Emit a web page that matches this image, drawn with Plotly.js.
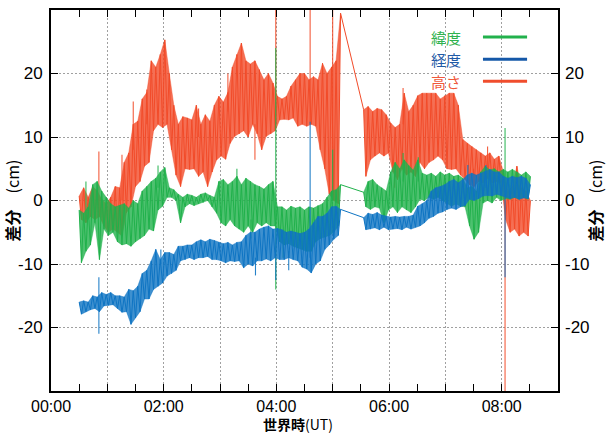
<!DOCTYPE html>
<html>
<head>
<meta charset="utf-8">
<script src="https://cdn.plot.ly/plotly-3.0.1.min.js"></script>
<style>
html,body{margin:0;padding:0;background:#fff;}
#chart{width:607px;height:436px;}
</style>
</head>
<body>
<div id="chart"></div>
<script>
// Sampling grid (hours UT): two recorded segments, sample step in hours.
// Samples alternate between the upper and lower edge of the noise band.
const STEP = 0.04;
const SEG1_START = 0.50;   // 117 samples, up to 05:08
const SEG2_START = 5.55;   // 75 samples, up to 08:31

// 緯度 (latitude) difference, cm
const latSeg1 = [
  -1.5, -9.8, -2, -8, -1, -7, 2.5, -3.5, 3, -9.3,
  1.5, -4.5, 0.5, -5.5, -0.5, -5, -1, -6.5, -0.8, -7,
  -0.5, -6.8, -1.2, -7.2, 0, -6.5, -0.5, -6, 1.5, -5.5,
  2.2, -4.5, 3, -4.8, 3.5, -1.5, 4.5, -0.9, 5.2, 0.5,
  2, 0.5, 1.7, 0, 1, -3.5, 0.5, -1, 1, -0.5,
  0.8, -0.8, 0.5, -0.5, 1, -0.3, 1.2, 0, 0.8, -1,
  0.5, -2, 3, -3.5, 3.3, -4, 2.5, -3, 3, -4,
  3.8, -4.5, 2.5, -5, 3.5, -4, 3, -5, 2.5, -3.5,
  2.2, -4, 1.8, -3.5, 2.5, -4, 3, -4, -1, -6.5,
  -1, -7, -1.5, -6.8, -0.9, -7.2, -1.2, -7.5, -1, -7.7,
  -1.5, -8, -1, -8, -1.2, -6.5, -0.8, -6, -0.5, -5.8,
  0.5, -5.5, 1.5, -5, 1.7, -4, 2.5
];
const latSeg2 = [
  1.3, -1, 3, -1.4, 3.3, -1, 2.5, -1.2, 2, -3.5,
  1.5, -1.5, 4.5, -1, 6, -1.9, 5, -1, 6.4, -1.5,
  5.5, -1.9, 4.8, -1, 6.4, 0.2, 4.3, 0, 4, 0.5,
  4.3, 0.2, 3.8, 0.5, 4.5, 0, 4, -0.5, 4.3, -0.9,
  3.8, -0.5, 4, -0.9, 3.5, -1, 2, -4, 2.2, -6.1,
  1.5, -5, 4.5, -0.4, 5.4, 0, 4.8, -0.4, 5, 0.5,
  4.5, 0, 4.9, 0.3, 4.5, 0.2, 4.9, 0.5, 4.5, 0.2,
  4, 0.5, 4.5, 0.2, 3.8
];
// isolated spikes: time, from, to
const latSpikeT =    [0.62, 1.90, 3.30, 3.55, 3.99, 4.12, 5.00, 6.25, 6.52, 8.06];
const latSpikeFrom = [-3,   2,    2,    -3,   -14,  -6,   0,    3,    3,    2];
const latSpikeTo =   [3,    5.5,  5,    -6,   24,   -9,   8,    7.5,  6.8,  11.4];

// 経度 (longitude) difference, cm
const lonSeg1 = [
  -16, -17.9, -15.8, -17.5, -16, -17.2, -15, -17, -15.2, -17.5,
  -14.5, -16.6, -14.8, -16.5, -14.5, -16.4, -15, -17, -15, -17.6,
  -15.2, -17.5, -14, -19.5, -14.2, -18.5, -13.5, -17.5, -11.5, -15.5,
  -11, -15.5, -9.5, -14, -7.7, -13.5, -9.3, -13, -8.2, -11.9,
  -8.2, -11.5, -8.5, -11, -7.2, -9.5, -7.2, -9.3, -7, -9,
  -7, -9.3, -6.5, -9, -6.2, -9, -6.5, -8.8, -6.1, -9.3,
  -6.3, -9.3, -6.6, -9.5, -6.8, -9.8, -6.6, -9.5, -7, -9.6,
  -6.6, -9.5, -6.5, -10.6, -5.5, -10, -5, -10.3, -5, -9.5,
  -4.5, -9.5, -4.2, -9.2, -4, -9.5, -4.5, -9, -4.4, -9.3,
  -4.6, -9.3, -5, -9, -4.8, -9.3, -5, -9.5, -5.2, -10.5,
  -5, -10.8, -4.5, -11.4, -3.5, -10, -2.5, -9.5, -2.5, -7.7,
  -2, -7, -1, -6.1, -0.9, -5.5, -1.4
];
const lonSeg2 = [
  -2.7, -4.6, -2, -4.5, -2.2, -4.3, -1.9, -4.6, -2.3, -4.2,
  -2.5, -4.6, -2.6, -4.5, -2.5, -4.4, -2.6, -4.6, -2.5, -4.2,
  -2.5, -4.5, -2.3, -4.2, -0.9, -4, -0.5, -3.5, 0, -2.8,
  1.5, -2.5, 2, -2, 2.2, -1.8, 2.5, -1.4, 3, -1.2,
  3.3, -1.4, 2.8, -1, 3.3, -0.8, 4, 0.2, 4.3, 0,
  4, 0.3, 4.3, 0.7, 4.6, 0.8, 4.9, 0.7, 4.5, 1,
  4.5, 0.8, 3.8, 0.5, 3.5, 0.3, 3.8, 0.5, 3.6, 0.2,
  3.8, 0.4, 3.5, 0.3, 2.5
];
const lonSpikeT =    [0.85,  1.95, 3.63,  3.99,  4.22, 4.60, 7.40, 7.72, 8.06];
const lonSpikeFrom = [-21,   -10,  -9,    -9,    -8,   -9,   2,    2,    1];
const lonSpikeTo =   [-12.1, -7.7, -11.8, -12.5, -11,  12.4, 5.6,  5.6,  -12.1];

// 高さ (height) difference, cm
const hgtSeg1 = [
  0.7, -3, 2, -3.5, 0.5, -2.5, 2.2, -3, 1.5, -2.5,
  0.2, -4, -0.5, -5, 0.5, -4.5, 2.2, -5, 2, -5.6,
  6, -1.9, 7.5, -1, 12, 2.2, 12.5, 3, 16, 5.4,
  17, 6, 22, 11, 21, 12, 23, 11.5, 25.3, 12,
  20, 8, 15, 4, 12, 2.2, 13.2, 5, 13, 4.9,
  12.7, 5, 15, 3.8, 12, 4.5, 13.5, 2.2, 12.5, 4.5,
  15, 6.4, 16.4, 7, 15.5, 6.5, 17, 9, 21, 10.1,
  23, 10.5, 24.8, 11, 22, 10, 21.5, 12, 22, 10.5,
  20.6, 8, 19, 10.1, 20, 10.5, 18.5, 11, 16.4, 12.7,
  16, 12.8, 16.4, 12.7, 18, 13, 19, 11.7, 20, 12,
  20, 11.7, 19, 12, 19.5, 11.7, 19, 8, 21.6, 5,
  20, 1, 21, 0, 22, -0.5, 29.5
];
const hgtSeg2 = [
  14.3, 3.8, 14.8, 6.4, 14, 7, 14.5, 7.5, 14.3, 7,
  13.5, 7.5, 12.2, 4.5, 11.5, 3.3, 12, 5, 16.9, 4,
  14, 4.5, 15, 3.8, 16.5, 6, 16.9, 5, 16.9, 6,
  16.9, 6.4, 16.9, 7, 16, 6.4, 16.5, 5, 16.9, 4.9,
  16.9, 5, 15, 4, 9.6, 3.3, 9, 2.5, 8.5, 2.2,
  8, 3, 7.5, 2.8, 7, 3.5, 7.5, 2.8, 6.5, 3,
  7, 2.8, 4.5, -3, 1.5, -5, 2.2, -4.5, 5.4, -5.6,
  2, -5, 1.5, -5.6, 0
];
const hgtSpikeT =    [0.85, 1.26, 1.46, 1.70, 2.62, 3.14, 3.62, 3.99, 4.60, 5.00, 6.10, 6.25, 7.50, 7.75, 8.06];
const hgtSpikeFrom = [-2,   0,    8,    12,   10,   14,   12,   12,   12,   1,    6,    12,   5,    5,    0];
const hgtSpikeTo =   [7.7,  7.2,  15.6, 17.5, 14.5, 20,   6.4,  32,   32,   31,   2,    17.7, 1,    8.5,  -32];

const xTickVals = [0, 1, 2, 3, 4, 5, 6, 7, 8, 9];
const xTickText = ['00:00', '', '02:00', '', '04:00', '', '06:00', '', '08:00', ''];
const yTickVals = [-20, -10, 0, 10, 20];
const yTickText = ['-20', '-10', '0', '10', '20'];

const seriesNames = ['緯度', '経度', '高さ'];
const lineRGB = [[32, 177, 75], [14, 116, 195], [242, 75, 41]];
const legendLineColors = ['#22b14c', '#1558a8', '#f04d2d'];
const legendTextColors = ['#2fb24e', '#1f5aa6', '#f0583a'];

const rgb = (c, a) => 'rgba(' + c[0] + ',' + c[1] + ',' + c[2] + ',' + a + ')';
const r2 = v => Math.round(v * 100) / 100;

// band: upper-edge samples (even) and lower-edge samples (odd), area filled between them,
// with the raw sample trace drawn over it for the noise texture
function bandTraces(samples, start, c) {
  const ax = [], ay = [], bx = [], by = [], tx = [];
  samples.forEach((v, i) => {
    const t = r2(start + i * STEP);
    tx.push(t);
    if (i % 2 === 0) { ax.push(t); ay.push(v); } else { bx.push(t); by.push(v); }
  });
  return [
    {x: ax, y: ay, type: 'scatter', mode: 'lines', line: {color: rgb(c, 0.55), width: 0.8}, showlegend: false, hoverinfo: 'skip'},
    {x: bx, y: by, type: 'scatter', mode: 'lines', line: {color: rgb(c, 0.55), width: 0.8}, fill: 'tonexty', fillcolor: rgb(c, 0.8), showlegend: false, hoverinfo: 'skip'},
    {x: tx, y: samples, type: 'scatter', mode: 'lines', line: {color: rgb(c, 1), width: 1}, showlegend: false, hoverinfo: 'skip'}
  ];
}
function spikeTrace(ts, from, to, c) {
  const x = [], y = [];
  ts.forEach((t, i) => { x.push(t, t, null); y.push(from[i], to[i], null); });
  return {x: x, y: y, type: 'scatter', mode: 'lines', line: {color: rgb(c, 0.9), width: 1.1}, showlegend: false, hoverinfo: 'skip'};
}
function gapTrace(s1, s2, c) {
  return {x: [r2(SEG1_START + (s1.length - 1) * STEP), SEG2_START], y: [s1[s1.length - 1], s2[0]],
    type: 'scatter', mode: 'lines', line: {color: rgb(c, 1), width: 1}, showlegend: false, hoverinfo: 'skip'};
}
function seriesTraces(s1, s2, st, sf, sto, c) {
  return [].concat(
    bandTraces(s1, SEG1_START, c),
    bandTraces(s2, SEG2_START, c),
    [gapTrace(s1, s2, c), spikeTrace(st, sf, sto, c)]
  );
}

const data = [].concat(
  seriesTraces(hgtSeg1, hgtSeg2, hgtSpikeT, hgtSpikeFrom, hgtSpikeTo, lineRGB[2]),
  seriesTraces(latSeg1, latSeg2, latSpikeT, latSpikeFrom, latSpikeTo, lineRGB[0]),
  seriesTraces(lonSeg1, lonSeg2, lonSpikeT, lonSpikeFrom, lonSpikeTo, lineRGB[1]),
  [{x: [null], y: [null], yaxis: 'y2', type: 'scatter', mode: 'lines', showlegend: false, hoverinfo: 'skip'}]
);

const tickFont = {family: 'Liberation Sans, Arial, sans-serif', size: 17, color: '#000'};
const xTickFont = {family: 'Liberation Sans, Arial, sans-serif', size: 16, color: '#000'};
const cjk = 'Noto Sans CJK JP, Liberation Sans, sans-serif';
const yTitle = {text: '<b>差分</b>\u3000(cm)', font: {family: cjk, size: 16, color: '#000'}, standoff: 6};

const legendRows = [0.929, 0.871, 0.813];
const annotations = seriesNames.map((n, i) => ({
  xref: 'paper', yref: 'paper', x: 0.8126, y: legendRows[i], xanchor: 'right', yanchor: 'middle',
  text: n, showarrow: false, font: {family: cjk, size: 15, color: legendTextColors[i]}
}));
// x-axis title placed as text below the tick labels
annotations.push({
  xref: 'paper', yref: 'paper', x: 0.487, y: -0.1155, xanchor: 'center', yanchor: 'bottom',
  text: '<b>世界時</b>(UT)', showarrow: false, borderpad: 0,
  font: {family: cjk, size: 14, color: '#000'}
});
const shapes = seriesNames.map((n, i) => ({
  type: 'line', xref: 'paper', yref: 'paper', x0: 0.852, x1: 0.939, y0: legendRows[i], y1: legendRows[i],
  line: {color: legendLineColors[i], width: 3}
}));

const layout = {
  width: 607, height: 436,
  margin: {l: 51, r: 49, t: 10, b: 45},
  paper_bgcolor: '#fff', plot_bgcolor: '#fff',
  showlegend: false,
  xaxis: {
    range: [0, 9], tickmode: 'array', tickvals: xTickVals, ticktext: xTickText,
    ticks: 'inside', ticklen: 7, tickwidth: 1, tickcolor: '#000',
    showline: true, linewidth: 2, linecolor: '#000', mirror: 'allticks',
    showgrid: true, gridcolor: '#a0a0a0', gridwidth: 1, griddash: '2px,2px',
    zeroline: false, tickfont: xTickFont,
    minor: {tickmode: 'linear', tick0: 0, dtick: 0.5, ticks: 'inside', ticklen: 3.5, tickcolor: '#000', showgrid: false}
  },
  yaxis: {
    range: [-30, 30], tickmode: 'array', tickvals: yTickVals, ticktext: yTickText,
    ticks: 'inside', ticklen: 7, tickwidth: 1, tickcolor: '#000',
    showline: true, linewidth: 2, linecolor: '#000', mirror: 'allticks',
    showgrid: true, gridcolor: '#a0a0a0', gridwidth: 1, griddash: '2px,2px',
    zeroline: false, tickfont: tickFont, ticklabelstandoff: 3,
    title: yTitle
  },
  yaxis2: {
    overlaying: 'y', side: 'right', anchor: 'x',
    range: [-30, 30], tickmode: 'array', tickvals: yTickVals, ticktext: yTickText,
    ticks: '', showline: false, showgrid: false, zeroline: false,
    tickfont: tickFont, ticklabelstandoff: 6,
    title: yTitle
  },
  annotations: annotations,
  shapes: shapes
};

Plotly.newPlot('chart', data, layout, {staticPlot: true, displayModeBar: false});
</script>
</body>
</html>
